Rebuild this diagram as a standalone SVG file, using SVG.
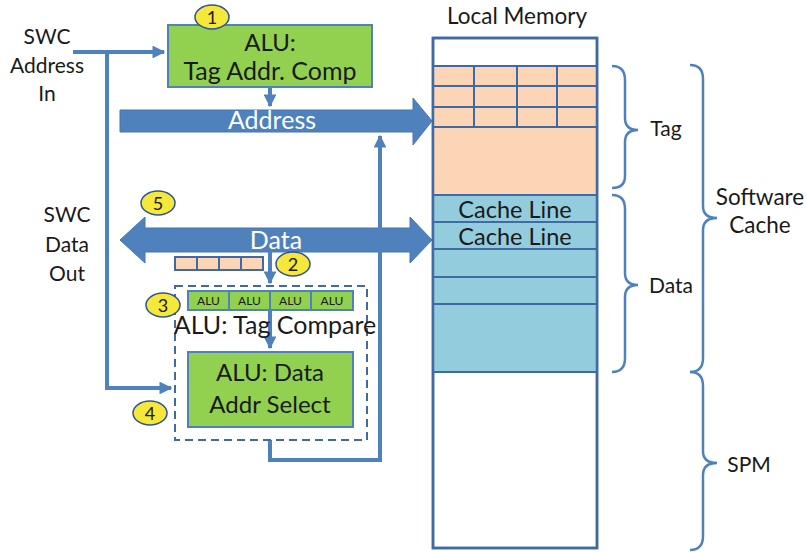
<svg xmlns="http://www.w3.org/2000/svg" width="807" height="552" viewBox="0 0 807 552">
  <defs>
    <style>
      text { font-family: Lato, "Open Sans", "Liberation Sans", sans-serif; fill: #1a1a1a; }
      .lbl { font-size: 21px; text-anchor: middle; }
      .big { font-size: 24px; text-anchor: middle; }
      .white { fill: #ffffff; font-size: 25px; text-anchor: middle; }
      .small { font-size: 12px; text-anchor: middle; }
      .num { font-size: 18px; text-anchor: middle; }
      .wire { fill: none; stroke: #4F81BD; stroke-width: 4; }
      .bus { fill: #4F81BD; stroke: #4677B5; stroke-width: 1; }
      .alu { fill: #92D050; stroke: #4F81BD; stroke-width: 2; }
      .tag { fill: #FBD5B5; stroke: #3F6AA3; stroke-width: 2; }
      .line { fill: #93CDDD; stroke: #3F6AA3; stroke-width: 2; }
      .mark { fill: #F5E83A; stroke: #2F5597; stroke-width: 1.5; }
      .brace { fill: none; stroke: #4F81BD; stroke-width: 2.5; }
    </style>
    <marker id="ah" viewBox="0 0 10 10" refX="9" refY="5" markerWidth="3.2" markerHeight="3.2" orient="auto" markerUnits="strokeWidth">
      <path d="M0,0 L10,5 L0,10 Z" fill="#4F81BD"/>
    </marker>
  </defs>

  <!-- outside labels -->
  <g id="swc-address-in">
    <text class="lbl" x="47" y="44">SWC</text>
    <text class="lbl" x="47" y="73">Address</text>
    <text class="lbl" x="47" y="101">In</text>
  </g>
  <g id="swc-data-out">
    <text class="lbl" x="67" y="222">SWC</text>
    <text class="lbl" x="67" y="252">Data</text>
    <text class="lbl" x="67" y="281">Out</text>
  </g>

  <!-- buses -->
  <g id="address-bus">
    <path class="bus" d="M120,110 H413 V98 L432,121 L413,145 V132 H120 Z"/>
    <text class="white" x="272" y="129">Address</text>
  </g>
  <g id="data-bus">
    <path class="bus" d="M120,240 L145,217 V228 H410 V217 L432,240 L410,263 V252 H145 V263 Z"/>
    <text class="white" x="276" y="249">Data</text>
  </g>

  <!-- connectors -->
  <g id="connectors">
    <path class="wire" d="M73,52 H164" marker-end="url(#ah)"/>
    <path class="wire" d="M107,52 V388 H171" marker-end="url(#ah)"/>
    <path class="wire" d="M270,87 V106" marker-end="url(#ah)"/>
    <path class="wire" d="M270,252 V283" marker-end="url(#ah)"/>
    <path class="wire" d="M270,310 V348" marker-end="url(#ah)"/>
    <path class="wire" d="M270,440 V460 H380 V136" marker-end="url(#ah)"/>
  </g>

  <!-- tag address compute unit -->
  <g id="alu-tag-addr-comp">
    <rect class="alu" x="168" y="25" width="204" height="62"/>
    <text class="big" x="270" y="51">ALU:</text>
    <text class="big" x="270" y="80" style="font-size:25px">Tag Addr. Comp</text>
  </g>

  <!-- tag buffer -->
  <g id="tag-buffer">
    <rect class="tag" x="175" y="257" width="22" height="13" stroke-width="1.5"/>
    <rect class="tag" x="197" y="257" width="22" height="13" stroke-width="1.5"/>
    <rect class="tag" x="219" y="257" width="22" height="13" stroke-width="1.5"/>
    <rect class="tag" x="241" y="257" width="22" height="13" stroke-width="1.5"/>
  </g>

  <!-- tag compare group -->
  <g id="tag-compare">
    <rect x="175" y="286" width="192" height="154" fill="none" stroke="#3F6AA3" stroke-width="2" stroke-dasharray="8,5"/>
    <rect class="alu" x="188" y="291" width="41" height="19"/>
    <rect class="alu" x="229" y="291" width="41" height="19"/>
    <rect class="alu" x="270" y="291" width="41" height="19"/>
    <rect class="alu" x="311" y="291" width="42" height="19"/>
    <text class="small" x="208.5" y="305">ALU</text>
    <text class="small" x="249.5" y="305">ALU</text>
    <text class="small" x="290.5" y="305">ALU</text>
    <text class="small" x="332" y="305">ALU</text>
    <text class="lbl" x="275" y="334" style="font-size:25px">ALU: Tag Compare</text>
  </g>

  <!-- data address select unit -->
  <g id="alu-data-addr-select">
    <rect class="alu" x="188" y="352" width="165" height="75"/>
    <text class="big" x="270" y="381">ALU: Data</text>
    <text class="big" x="270" y="413">Addr Select</text>
  </g>

  <!-- step markers -->
  <g id="step-1"><ellipse class="mark" cx="212" cy="17" rx="17" ry="12"/><text class="num" x="212" y="23.5">1</text></g>
  <g id="step-2"><ellipse class="mark" cx="293" cy="264" rx="17" ry="12"/><text class="num" x="293" y="270.5">2</text></g>
  <g id="step-3"><ellipse class="mark" cx="163" cy="305" rx="17" ry="12"/><text class="num" x="163" y="311.5">3</text></g>
  <g id="step-4"><ellipse class="mark" cx="150" cy="413" rx="17" ry="12"/><text class="num" x="150" y="419.5">4</text></g>
  <g id="step-5"><ellipse class="mark" cx="158" cy="203" rx="17" ry="12"/><text class="num" x="158" y="209.5">5</text></g>

  <!-- local memory -->
  <g id="local-memory">
    <text class="lbl" x="517" y="24" style="font-size:22.5px">Local Memory</text>
    <rect x="433" y="38" width="164" height="510" fill="#ffffff" stroke="#3F6AA3" stroke-width="2.5"/>
    <rect class="tag" x="433" y="66" width="164" height="129"/>
    <path d="M433,86 H597 M433,107 H597 M433,127 H597 M474,66 V127 M517,66 V127 M557,66 V127" stroke="#3F6AA3" stroke-width="2" fill="none"/>
    <rect class="line" x="433" y="195" width="164" height="177"/>
    <path d="M433,222 H597 M433,249 H597 M433,277 H597 M433,304 H597" stroke="#3F6AA3" stroke-width="2" fill="none"/>
    <text class="lbl" x="515" y="218" style="font-size:23.5px">Cache Line</text>
    <text class="lbl" x="515" y="245" style="font-size:23.5px">Cache Line</text>
    <rect x="433" y="38" width="164" height="510" fill="none" stroke="#3F6AA3" stroke-width="2.5"/>
  </g>

  <!-- region braces -->
  <g id="tag-region">
    <path class="brace" d="M612,66 Q625,66 625,80 V118 Q625,130 638,130 Q625,130 625,142 V176 Q625,188 612,188"/>
    <text class="lbl" x="666" y="136">Tag</text>
  </g>
  <g id="data-region">
    <path class="brace" d="M612,195 Q625,195 625,209 V273 Q625,285 638,285 Q625,285 625,297 V358 Q625,372 612,372"/>
    <text class="lbl" x="671" y="293">Data</text>
  </g>
  <g id="software-cache-region">
    <path class="brace" d="M690,65 Q703,65 703,79 V206 Q703,218 717,218 Q703,218 703,230 V358 Q703,372 690,372"/>
    <text class="lbl" x="760" y="205" style="font-size:22.5px">Software</text>
    <text class="lbl" x="760" y="233" style="font-size:22.5px">Cache</text>
  </g>
  <g id="spm-region">
    <path class="brace" d="M690,372 Q703,372 703,386 V451 Q703,463 717,463 Q703,463 703,475 V536 Q703,550 690,550"/>
    <text class="lbl" x="749" y="472">SPM</text>
  </g>
</svg>
